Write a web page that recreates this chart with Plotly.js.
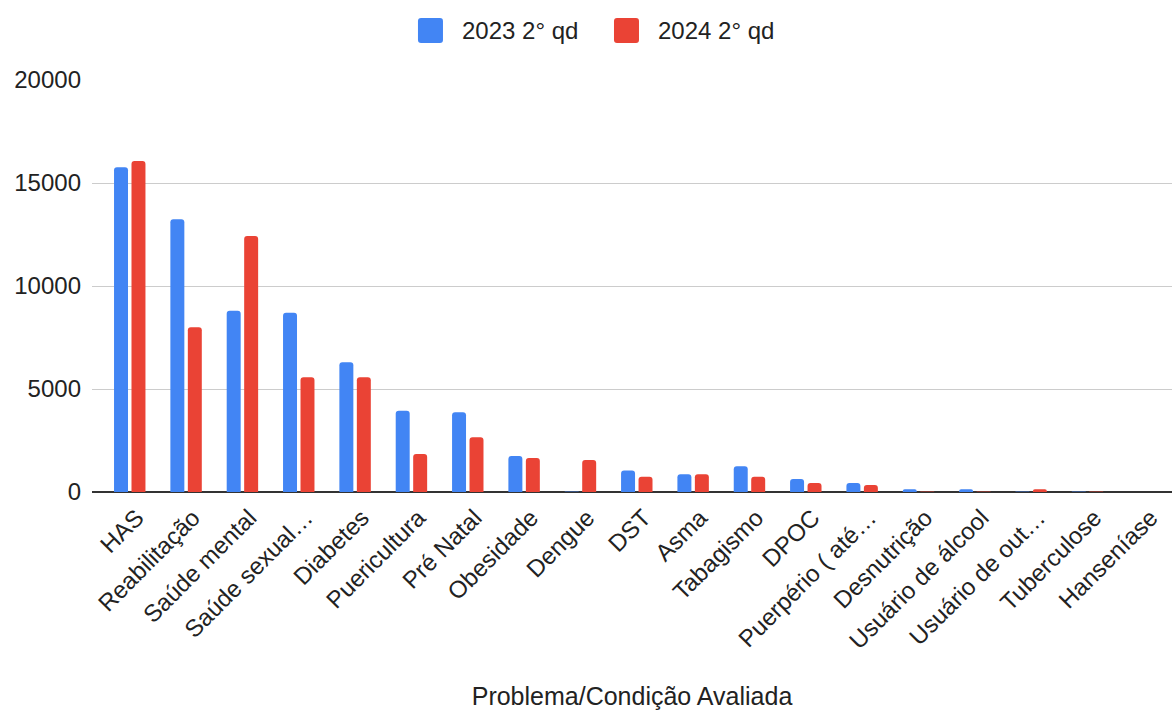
<!DOCTYPE html>
<html>
<head>
<meta charset="utf-8">
<script src="https://cdn.plot.ly/plotly-3.0.1.min.js"></script>
<style>html,body{margin:0;padding:0;background:#fff;}#chart{width:1172px;height:710px;}</style>
</head>
<body>
<div id="chart"></div>
<script>
var categories = ["HAS","Reabilitação","Saúde mental","Saúde sexual…","Diabetes","Puericultura","Pré Natal","Obesidade","Dengue","DST","Asma","Tabagismo","DPOC","Puerpério ( até…","Desnutrição","Usuário de álcool","Usuário de out…","Tuberculose","Hanseníase"];
var seriesNames = ["2023 2° qd","2024 2° qd"];
var values2023 = [15760,13240,8800,8705,6295,3950,3870,1750,20,1045,860,1250,630,440,130,130,20,20,0];
var values2024 = [16070,7995,12430,5565,5565,1845,2655,1650,1555,745,860,745,440,340,20,20,130,20,0];
var tickVals = [0,5000,10000,15000,20000];

var colors = ['#4285f4','#ea4335'];
var FONT = 'Arial, "Liberation Sans", sans-serif';

var data = [
  {type:'bar', name:seriesNames[0], x:categories, y:values2023, marker:{color:colors[0], cornerradius:3}, showlegend:false},
  {type:'bar', name:seriesNames[1], x:categories, y:values2024, marker:{color:colors[1], cornerradius:3}, showlegend:false}
];

// legend drawn as pixel-sized rounded squares plus text labels
var rr = "M-9.5,-12.5 H9.5 Q12.5,-12.5 12.5,-9.5 V9.5 Q12.5,12.5 9.5,12.5 H-9.5 Q-12.5,12.5 -12.5,9.5 V-9.5 Q-12.5,-12.5 -9.5,-12.5 Z";
var legX = [0.3134, 0.4949];
var legTextX = [0.3407, 0.5222];
var legY = 1.1201;
var shapes = legX.map(function(x,i){
  return {type:'path', xref:'paper', yref:'paper', xsizemode:'pixel', ysizemode:'pixel', xanchor:x, yanchor:legY,
    path:rr, fillcolor:colors[i], line:{width:0}};
});
var annotations = legTextX.map(function(x,i){
  return {xref:'paper', yref:'paper', x:x, y:legY, xanchor:'left', yanchor:'middle', showarrow:false,
    text:seriesNames[i], font:{family:FONT, size:24, color:'#222'}};
});

var layout = {
  width:1172, height:710,
  margin:{l:92, r:0, t:80, b:218},
  paper_bgcolor:'#fff', plot_bgcolor:'#fff',
  font:{family:FONT, size:24, color:'#222'},
  barmode:'group', bargap:0.38, bargroupgap:0.2,
  showlegend:false,
  shapes:shapes,
  annotations:annotations,
  xaxis:{range:[-0.67,18.5], tickangle:-45, tickfont:{family:FONT, size:24, color:'#222'}, showgrid:false, showline:false, ticks:'', automargin:false,
    ticklabelshift:7, ticklabelstandoff:6,
    title:{text:'Problema/Condição Avaliada', font:{family:FONT, size:25, color:'#222'}, standoff:38}},
  yaxis:{range:[0,20000], tickvals:tickVals, ticktext:tickVals.map(String), gridcolor:'#cccccc', gridwidth:1,
    zeroline:true, zerolinecolor:'#333', zerolinewidth:2, showline:false, ticklabelstandoff:10,
    tickfont:{family:FONT, size:24, color:'#222'}, ticks:'', automargin:false}
};
Plotly.newPlot('chart', data, layout, {displayModeBar:false, staticPlot:true});
</script>
</body>
</html>
